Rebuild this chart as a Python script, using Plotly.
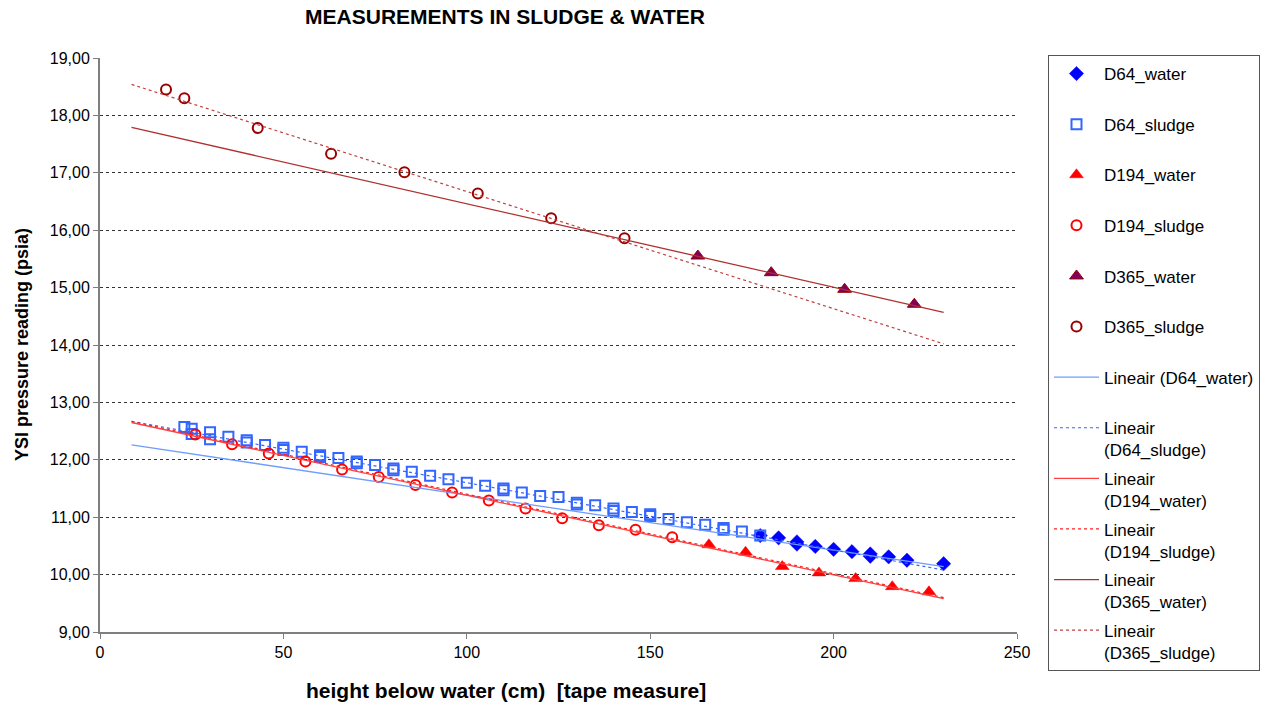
import plotly.graph_objects as go

# --- measured series: height below water (cm) vs YSI pressure (psia) ---
d64_water_x = [180, 185, 190, 190, 195, 200, 205, 210, 210, 215, 220, 230]
d64_water_y = [10.68, 10.64, 10.57, 10.53, 10.49, 10.44, 10.40, 10.36, 10.32, 10.31, 10.25, 10.19]

d64_sludge_x = [23, 25, 25, 30, 30, 35, 40, 40, 45, 50, 50, 55, 60, 60, 65, 70, 70, 75,
                80, 80, 85, 90, 95, 100, 105, 110, 110, 115, 120, 125, 130, 130, 135,
                140, 140, 145, 150, 150, 155, 160, 165, 170, 170, 175, 180]
d64_sludge_y = [12.57, 12.54, 12.45, 12.48, 12.36, 12.40, 12.34, 12.30, 12.26, 12.21, 12.17,
                12.14, 12.08, 12.05, 12.03, 11.97, 11.94, 11.91, 11.85, 11.82, 11.79, 11.72,
                11.66, 11.60, 11.55, 11.50, 11.47, 11.43, 11.37, 11.35, 11.25, 11.22, 11.21,
                11.15, 11.11, 11.09, 11.05, 11.02, 10.97, 10.91, 10.87, 10.81, 10.78, 10.75,
                10.68]

d194_water_x = [166, 176, 186, 196, 206, 216, 226]
d194_water_y = [10.52, 10.39, 10.14, 10.03, 9.93, 9.79, 9.70]

d194_sludge_x = [26, 36, 46, 56, 66, 76, 86, 96, 106, 116, 126, 136, 146, 156]
d194_sludge_y = [12.44, 12.27, 12.11, 11.97, 11.83, 11.70, 11.56, 11.43, 11.29, 11.15,
                 10.98, 10.86, 10.78, 10.65]

d365_water_x = [163, 183, 203, 222]
d365_water_y = [15.55, 15.26, 14.97, 14.71]

d365_sludge_x = [18, 23, 43, 63, 83, 103, 123, 143]
d365_sludge_y = [18.45, 18.30, 17.78, 17.33, 17.01, 16.64, 16.21, 15.86]

# linear trendlines ("Lineair"), given by their value at each end of the span (cm)
trend_x = [8.6, 230]
trend_d64_water = [12.26, 10.14]
trend_d64_sludge = [12.67, 10.08]
trend_d194_water = [12.65, 9.58]
trend_d194_sludge = [12.67, 9.60]
trend_d365_water = [17.79, 14.57]
trend_d365_sludge = [18.54, 14.02]

x_ticks = [0, 50, 100, 150, 200, 250]
y_ticks = [9, 10, 11, 12, 13, 14, 15, 16, 17, 18, 19]

FONT = "Liberation Sans, Arial, sans-serif"
BLANK = "<br>\u00a0"

fig = go.Figure()


def scatter(name, xs, ys, symbol, size, color, fill=None, lw=2):
    fig.add_trace(go.Scatter(
        x=xs, y=ys, mode="markers", name=name + BLANK, legendgroup=name,
        marker=dict(symbol=symbol, size=size, color=fill or color,
                    line=dict(color=color, width=lw)),
    ))


def trend(name, ys, color, dash, width):
    fig.add_trace(go.Scatter(
        x=trend_x, y=ys, mode="lines", name=name, legendgroup=name,
        line=dict(color=color, dash=dash, width=width),
    ))


scatter("D64_water", d64_water_x, d64_water_y, "diamond", 11, "#0000FF", lw=0.5)
scatter("D64_sludge", d64_sludge_x, d64_sludge_y, "square-open", 10, "#3366FF")
scatter("D194_water", d194_water_x, d194_water_y, "triangle-up", 12, "#FF0000", lw=0.5)
scatter("D194_sludge", d194_sludge_x, d194_sludge_y, "circle-open", 10, "#FF0000")
scatter("D365_water", d365_water_x, d365_water_y, "triangle-up", 12, "#990000",
        fill="#800060", lw=1)
scatter("D365_sludge", d365_sludge_x, d365_sludge_y, "circle-open", 10, "#990000")

trend("Lineair (D64_water)" + BLANK, trend_d64_water, "#6E9CFF", "solid", 1.3)
trend("Lineair<br>(D64_sludge)", trend_d64_sludge, "#3366FF", "dot", 1.2)
trend("Lineair<br>(D194_water)", trend_d194_water, "#FF4040", "solid", 1.3)
trend("Lineair<br>(D194_sludge)", trend_d194_sludge, "#FF2020", "dot", 1.2)
trend("Lineair<br>(D365_water)", trend_d365_water, "#B03030", "solid", 1.3)
trend("Lineair<br>(D365_sludge)", trend_d365_sludge, "#C04040", "dot", 1.2)

fig.update_layout(
    width=1276, height=702,
    margin=dict(l=100, r=259, t=58, b=70, autoexpand=False),
    paper_bgcolor="white", plot_bgcolor="white",
    separators=",.",
    font=dict(family=FONT, color="black"),
    showlegend=True,
    legend=dict(
        x=1.0338, xanchor="left", xref="paper",
        y=1 - 55 / 702, yanchor="top", yref="container", maxheight=1,
        bordercolor="#555555", borderwidth=1, bgcolor="white",
        font=dict(family=FONT, size=17, color="black"),
        itemwidth=45, valign="top", tracegroupgap=3.4,
        traceorder="grouped", itemsizing="trace",
    ),
    title=dict(
        text="<b>MEASUREMENTS IN SLUDGE & WATER</b>",
        x=(505 - 100) / 917, xref="paper", xanchor="center",
        y=1 - 17 / 702, yref="container", yanchor="middle",
        font=dict(family=FONT, size=21, color="black"),
    ),
    xaxis=dict(
        range=[0, 250], tickvals=x_ticks, ticktext=[str(v) for v in x_ticks],
        showgrid=False, zeroline=False, automargin=False,
        showline=True, linecolor="#7f7f7f", linewidth=2,
        ticks="outside", ticklen=5, tickcolor="#7f7f7f", tickwidth=1,
        tickfont=dict(family=FONT, size=16, color="black"),
    ),
    yaxis=dict(
        range=[9, 19], tickvals=y_ticks, tickformat=".2f", automargin=False,
        showgrid=True, gridcolor="#333333", griddash="dot", gridwidth=1,
        zeroline=False,
        showline=True, linecolor="#7f7f7f", linewidth=2,
        ticks="outside", ticklen=5, tickcolor="#7f7f7f", tickwidth=1,
        tickfont=dict(family=FONT, size=16, color="black"),
    ),
    annotations=[
        dict(text="<b>height below water (cm)  [tape measure]</b>",
             xref="paper", yref="paper", x=(506 - 100) / 917, y=-(690 - 632) / 574,
             xanchor="center", yanchor="middle", showarrow=False,
             font=dict(family=FONT, size=21, color="black")),
        dict(text="<b>YSI pressure reading (psia)</b>", textangle=-90,
             xref="paper", yref="paper", x=-(100 - 22) / 917, y=(632 - 345) / 574,
             xanchor="center", yanchor="middle", showarrow=False,
             font=dict(family=FONT, size=18, color="black")),
    ],
)

fig.write_html("out.html")
